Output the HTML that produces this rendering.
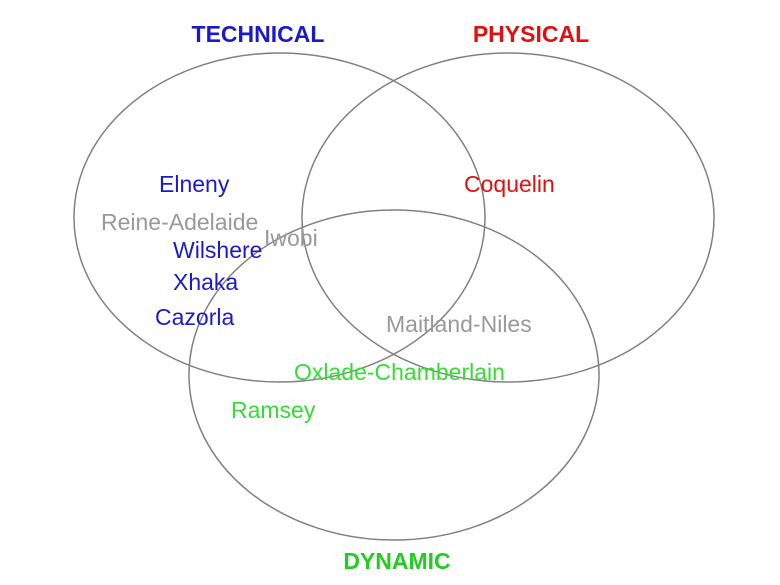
<!DOCTYPE html>
<html><head><meta charset="utf-8"><style>
html,body{margin:0;padding:0;background:#fff;}
svg{display:block;font-family:"Liberation Sans",Arial,sans-serif;}
</style></head><body>
<svg width="780" height="585" viewBox="0 0 780 585" xmlns="http://www.w3.org/2000/svg">
<rect width="780" height="585" fill="#fff"/>
<g fill="none" stroke="#808080" stroke-width="1.5">
<ellipse cx="279.5" cy="217.5" rx="205.5" ry="164.5"/>
<ellipse cx="508" cy="217.5" rx="206" ry="164.5"/>
<ellipse cx="394" cy="375" rx="205" ry="165"/>
</g>
<g font-weight="bold" font-size="23" text-anchor="middle">
<text x="258" y="42" fill="#1a1acc">TECHNICAL</text>
<text x="531" y="42" fill="#e01010">PHYSICAL</text>
<text x="397" y="569" fill="#22cc22">DYNAMIC</text>
</g>
<g font-size="23">
<text x="159" y="192" fill="#1a1acc">Elneny</text>
<text x="101" y="230" fill="#999">Reine-Adelaide</text>
<text x="264" y="246" fill="#999">Iwobi</text>
<text x="173" y="258" fill="#1a1acc">Wilshere</text>
<text x="173" y="290" fill="#1a1acc">Xhaka</text>
<text x="155" y="325" fill="#1a1acc">Cazorla</text>
<text x="464" y="192" fill="#e01010">Coquelin</text>
<text x="386" y="332" fill="#999">Maitland-Niles</text>
<text x="294" y="380" fill="#33dd33">Oxlade-Chamberlain</text>
<text x="231" y="418" fill="#33dd33">Ramsey</text>
</g>
</svg>
</body></html>
